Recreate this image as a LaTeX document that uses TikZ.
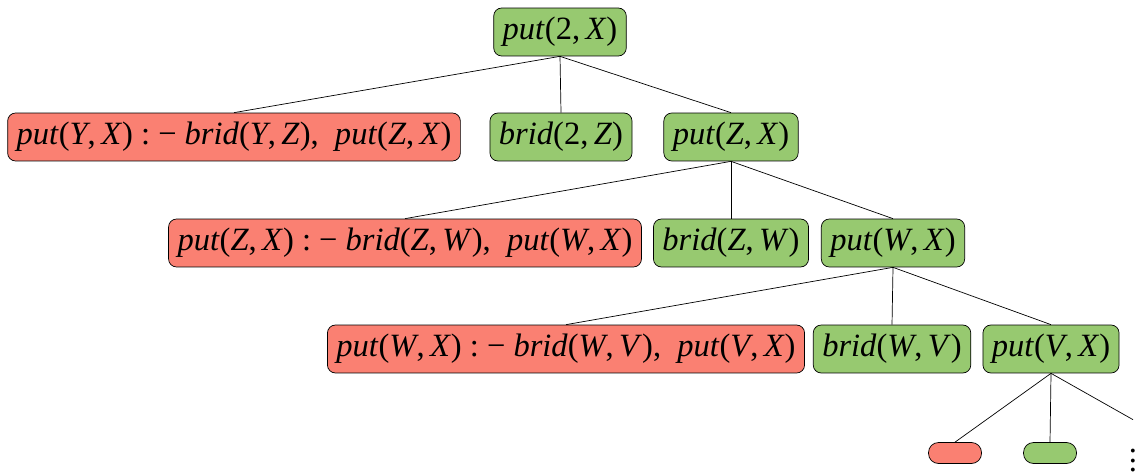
\documentclass[tikz,border=0pt]{standalone}
\usepackage{fontspec}
\setmainfont{Liberation Serif}
\usepackage{xcolor}
\usetikzlibrary{positioning}
\definecolor{goodgreen}{RGB}{151,201,112}
\definecolor{badred}{RGB}{250,128,114}
\newcommand{\pr}[3]{\textit{#1}(#2,\,#3)}
\newcommand{\vx}[1]{\textit{#1}}

\begin{document}
\begin{tikzpicture}[x=0.02cm, y=-0.02cm,
    goal/.style={draw, rounded corners=0.16cm, minimum height=0.96cm, inner xsep=0.18cm,
        font=\fontsize{18.5}{22}\selectfont},
    good/.style={goal, fill=goodgreen},
    bad/.style={goal, fill=badred},
    leaf/.style={draw, rounded corners=0.2cm, minimum width=1.06cm, minimum height=0.42cm, inner sep=0pt}]
    \useasboundingbox (0,0) rectangle (1138,476);

    % Root
    \node[good] (root) at (560,32) {\pr{put}{2}{\vx{X}}};

    % Level 1
    \node[bad] (r1) at (234,137) {\pr{put}{\vx{Y}}{\vx{X}} : − \pr{brid}{\vx{Y}}{\vx{Z}}, \ \pr{put}{\vx{Z}}{\vx{X}}};
    \node[good] (b1) at (561,137) {\pr{brid}{2}{\vx{Z}}};
    \node[good] (p1) at (731,137) {\pr{put}{\vx{Z}}{\vx{X}}};

    % Level 2
    \node[bad] (r2) at (405,243) {\pr{put}{\vx{Z}}{\vx{X}} : − \pr{brid}{\vx{Z}}{\vx{W}}, \ \pr{put}{\vx{W}}{\vx{X}}};
    \node[good] (b2) at (731,243) {\pr{brid}{\vx{Z}}{\vx{W}}};
    \node[good] (p2) at (893,243) {\pr{put}{\vx{W}}{\vx{X}}};

    % Level 3
    \node[bad] (r3) at (566,349) {\pr{put}{\vx{W}}{\vx{X}} : − \pr{brid}{\vx{W}}{\vx{V}}, \ \pr{put}{\vx{V}}{\vx{X}}};
    \node[good] (b3) at (892,349) {\pr{brid}{\vx{W}}{\vx{V}}};
    \node[good] (p3) at (1051,349) {\pr{put}{\vx{V}}{\vx{X}}};

    % Level 4
    \node[leaf, fill=badred] (r4) at (955,453) {};
    \node[leaf, fill=goodgreen] (b4) at (1050,453) {};
    \node[font=\fontsize{18.5}{5.4pt}\selectfont, align=center, inner sep=0pt,
        minimum height=1.64cm] (dots) at (1133,461) {.\\.\\.};

    % Edges
    \draw (root.south) -- (r1.north);
    \draw (root.south) -- (b1.north);
    \draw (root.south) -- (p1.north);
    \draw (p1.south) -- (r2.north);
    \draw (p1.south) -- (b2.north);
    \draw (p1.south) -- (p2.north);
    \draw (p2.south) -- (r3.north);
    \draw (p2.south) -- (b3.north);
    \draw (p2.south) -- (p3.north);
    \draw (p3.south) -- (r4.north);
    \draw (p3.south) -- (b4.north);
    \draw (p3.south) -- (dots.north);
\end{tikzpicture}
\end{document}
